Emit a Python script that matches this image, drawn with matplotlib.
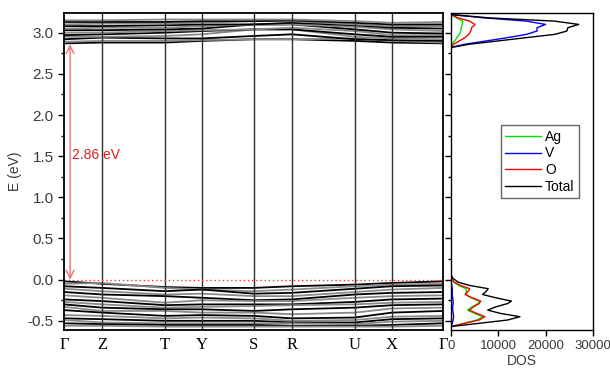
import matplotlib
matplotlib.use("Agg")
import matplotlib.pyplot as plt
from matplotlib.ticker import MultipleLocator, FormatStrFormatter

# high-symmetry path
kpt_labels = ["Γ", "Z", "T", "Y", "S", "R", "U", "X", "Γ"]
kpt_pos = [0, 38, 101, 138, 190, 228, 291, 328, 379]

# conduction bands (eV) at each k-point
cond_bands = [
    [2.87, 2.88, 2.88, 2.90, 2.92, 2.92, 2.90, 2.88, 2.87],
    [2.89, 2.90, 2.90, 2.91, 2.92, 2.92, 2.93, 2.90, 2.88],
    [2.92, 2.94, 2.93, 2.93, 2.96, 2.98, 2.92, 2.91, 2.90],
    [2.95, 2.95, 2.96, 2.98, 3.04, 3.04, 2.95, 2.93, 2.92],
    [2.97, 2.98, 3.00, 3.02, 3.04, 3.04, 2.98, 2.95, 2.95],
    [3.00, 3.00, 3.02, 3.03, 3.04, 3.06, 3.02, 2.97, 2.97],
    [3.03, 3.03, 3.04, 3.05, 3.10, 3.10, 3.04, 3.00, 2.99],
    [3.05, 3.06, 3.06, 3.08, 3.10, 3.10, 3.07, 3.04, 3.02],
    [3.08, 3.08, 3.09, 3.10, 3.10, 3.12, 3.09, 3.06, 3.05],
    [3.10, 3.11, 3.11, 3.12, 3.14, 3.14, 3.10, 3.08, 3.08],
    [3.13, 3.13, 3.13, 3.14, 3.14, 3.15, 3.12, 3.10, 3.10],
    [3.15, 3.15, 3.16, 3.16, 3.16, 3.16, 3.14, 3.12, 3.13],
]

# valence bands (eV) at each k-point
val_bands = [
    [-0.02, -0.05, -0.09, -0.10, -0.10, -0.08, -0.06, -0.04, -0.02],
    [-0.05, -0.04, -0.10, -0.12, -0.14, -0.12, -0.08, -0.06, -0.05],
    [-0.08, -0.10, -0.14, -0.12, -0.17, -0.16, -0.11, -0.08, -0.07],
    [-0.11, -0.14, -0.18, -0.17, -0.20, -0.20, -0.15, -0.12, -0.10],
    [-0.15, -0.18, -0.20, -0.22, -0.25, -0.24, -0.18, -0.16, -0.15],
    [-0.19, -0.22, -0.28, -0.25, -0.26, -0.26, -0.22, -0.20, -0.19],
    [-0.24, -0.26, -0.31, -0.30, -0.30, -0.30, -0.27, -0.24, -0.23],
    [-0.27, -0.30, -0.34, -0.33, -0.32, -0.31, -0.30, -0.28, -0.27],
    [-0.30, -0.34, -0.36, -0.36, -0.38, -0.36, -0.34, -0.31, -0.30],
    [-0.33, -0.38, -0.38, -0.40, -0.40, -0.42, -0.40, -0.35, -0.34],
    [-0.37, -0.40, -0.44, -0.43, -0.44, -0.47, -0.46, -0.40, -0.38],
    [-0.43, -0.44, -0.47, -0.46, -0.47, -0.50, -0.49, -0.45, -0.44],
    [-0.47, -0.48, -0.50, -0.50, -0.50, -0.52, -0.52, -0.48, -0.47],
    [-0.49, -0.52, -0.53, -0.53, -0.53, -0.53, -0.54, -0.51, -0.50],
    [-0.53, -0.54, -0.55, -0.55, -0.55, -0.56, -0.56, -0.55, -0.53],
    [-0.56, -0.56, -0.57, -0.57, -0.57, -0.57, -0.57, -0.57, -0.56],
]

gap = 2.86

# partial DOS, valence part
vb_E = [-0.57, -0.53, -0.49, -0.45, -0.41, -0.37, -0.33, -0.29, -0.26,
        -0.22, -0.18, -0.14, -0.11, -0.07, -0.03, 0.02, 0.07]
vb_total = [0, 6000, 12000, 14600, 10500, 7800, 9500, 12000, 12800,
            9500, 6700, 7500, 7900, 4000, 1500, 400, 0]
vb_O = [0, 3000, 6000, 7200, 5500, 3900, 4800, 6000, 6300,
        4500, 3000, 3700, 4000, 2000, 700, 200, 0]
vb_Ag = [0, 2700, 5500, 6800, 5000, 3500, 4500, 5800, 6000,
         4300, 3200, 3300, 3200, 1700, 600, 150, 0]
vb_V = [0, 300, 500, 600, 500, 400, 400, 500, 500,
        400, 300, 300, 300, 200, 100, 50, 0]

# partial DOS, conduction part
cb_E = [2.82, 2.86, 2.90, 2.94, 2.98, 3.02, 3.06, 3.10, 3.14, 3.18, 3.22]
cb_total = [0, 4000, 10000, 16000, 22000, 24500, 24700, 27000, 22000, 8000, 0]
cb_V = [0, 3000, 7500, 12000, 16000, 18200, 18200, 20000, 16000, 7000, 0]
cb_O = [0, 600, 1800, 3000, 3800, 4200, 4400, 5100, 4000, 1500, 0]
cb_Ag = [0, 300, 800, 1300, 1800, 2100, 2200, 2400, 2500, 1200, 0]

dos_ticks = [0, 10000, 20000, 30000]

sans = "Liberation Sans"
serif = "Liberation Serif"
tick_col = "#3a3a3a"

fig = plt.figure(figsize=(6.1, 3.69), dpi=100)
ax = fig.add_axes([0.105, 0.106, 0.621, 0.859])
ax2 = fig.add_axes([0.739, 0.106, 0.233, 0.859])

ylim = (-0.61, 3.24)

# bands
for i, b in enumerate(cond_bands + val_bands):
    col = "black" if i % 2 == 0 else "#8a8a8a"
    ax.plot(kpt_pos, b, color=col, lw=1.3)

for k in kpt_pos[1:-1]:
    ax.axvline(k, color="#303030", lw=1.0)

ax.axhline(0, color="#ff3030", lw=1.0, ls=(0, (1, 2)))
ax.annotate("", xy=(6, gap), xytext=(6, 0),
            arrowprops=dict(arrowstyle="<->", color="#f07070", lw=1.0,
                            shrinkA=0, shrinkB=0, mutation_scale=14))
ax.text(8, 1.52, "2.86 eV", color="#e02020", fontsize=10, family=sans,
        va="center", ha="left")

ax.set_xlim(kpt_pos[0], kpt_pos[-1])
ax.set_ylim(*ylim)
ax.set_xticks(kpt_pos)
ax.set_xticklabels(kpt_labels, family=serif, fontsize=12)
ax.tick_params(axis="x", length=0, pad=5)
ax.yaxis.set_major_locator(MultipleLocator(0.5))
ax.yaxis.set_minor_locator(MultipleLocator(0.25))
ax.yaxis.set_major_formatter(FormatStrFormatter("%.1f"))
ax.tick_params(axis="y", direction="out", length=4, width=1, labelsize=11,
               labelcolor=tick_col)
ax.tick_params(axis="y", which="minor", direction="out", length=2.5, width=1)
for lab in ax.get_yticklabels():
    lab.set_family(sans)
ax.set_ylabel("E (eV)", family=sans, fontsize=10, color=tick_col, labelpad=4)
for s in ax.spines.values():
    s.set_linewidth(1.3)

# DOS panel
ax2.plot(vb_Ag, vb_E, color="#00e000", lw=1.0, label="Ag")
ax2.plot(vb_V, vb_E, color="#0000ff", lw=1.0, label="V")
ax2.plot(vb_O, vb_E, color="#ff0000", lw=1.0, label="O")
ax2.plot(vb_total, vb_E, color="black", lw=1.0, label="Total")
ax2.plot(cb_Ag, cb_E, color="#00e000", lw=1.0)
ax2.plot(cb_V, cb_E, color="#0000ff", lw=1.0)
ax2.plot(cb_O, cb_E, color="#ff0000", lw=1.0)
ax2.plot(cb_total, cb_E, color="black", lw=1.0)

ax2.set_xlim(0, 30000)
ax2.set_ylim(*ylim)
ax2.set_xticks(dos_ticks)
ax2.set_xticklabels([str(t) for t in dos_ticks], family=sans, fontsize=9.5,
                    color=tick_col)
ax2.yaxis.set_major_locator(MultipleLocator(0.5))
ax2.yaxis.set_minor_locator(MultipleLocator(0.25))
ax2.tick_params(axis="y", labelleft=False, direction="out", length=4, width=1)
ax2.tick_params(axis="y", which="minor", direction="out", length=2.5, width=1)
ax2.tick_params(axis="x", direction="out", length=4, width=1, pad=3)
ax2.set_xlabel("DOS", family=sans, fontsize=10, color=tick_col, labelpad=2)
for s in ax2.spines.values():
    s.set_linewidth(1.0)

leg = ax2.legend(loc="upper left", bbox_to_anchor=(0.35, 0.645),
                 prop={"family": sans, "size": 10}, frameon=True,
                 fancybox=False, edgecolor="#404040", handlelength=2.6,
                 handletextpad=0.3, borderpad=0.3, labelspacing=0.2,
                 borderaxespad=0)
leg.get_frame().set_linewidth(1.0)

fig.savefig("out.png", dpi=100)
